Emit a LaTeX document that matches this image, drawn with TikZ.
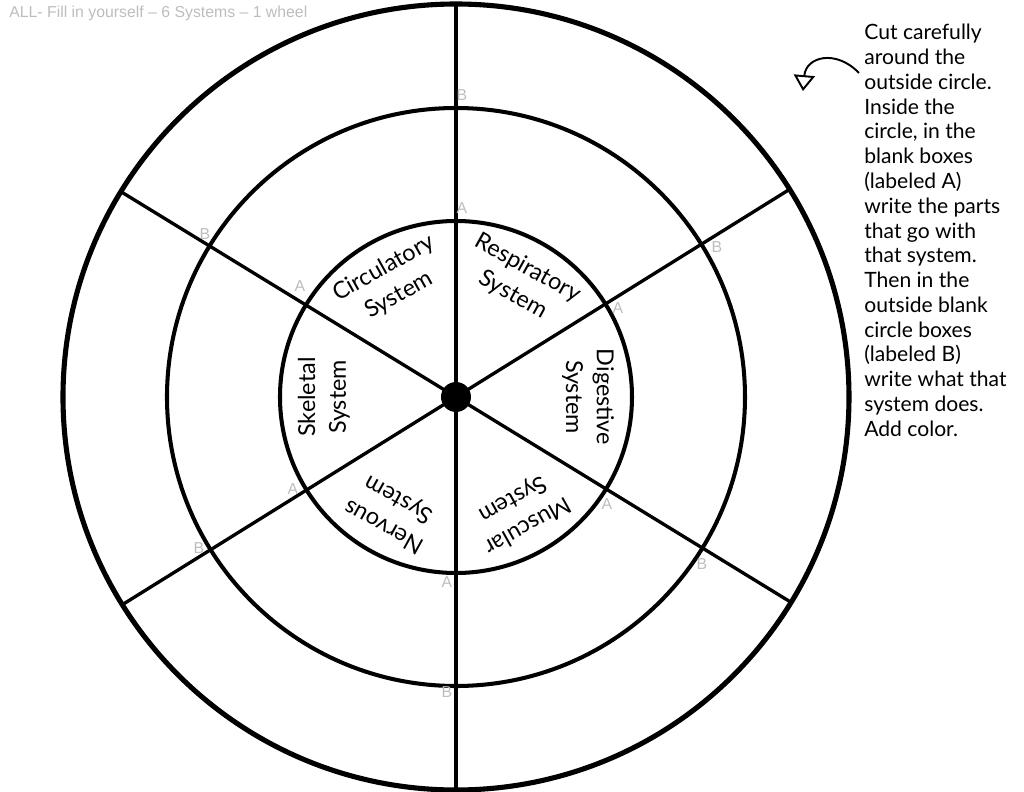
\documentclass[tikz,border=0pt]{standalone}
\usepackage{fontspec}
\setmainfont{Lato}
\newfontfamily\markfont{Liberation Sans}
\usepackage{xcolor}
\usetikzlibrary{arrows.meta}

\definecolor{markgray}{gray}{0.74}

\tikzset{
    rim/.style={line width=2.9pt},
    ring/.style={line width=2.3pt},
    spoke/.style={line width=1.9pt},
    sysname/.style={align=center, inner sep=0pt, font=\fontsize{13.3}{17.5}\selectfont},
    boxmark/.style={text=markgray, inner sep=0pt, font=\markfont\fontsize{9}{9}\selectfont},
}

\begin{document}
\begin{tikzpicture}

        \useasboundingbox (-9.12,-7.90) rectangle (11.36,7.94);
        \coordinate (hub) at (0,0);

        % Draw spokes
        \foreach \a in {31.9,90,148.5,211.9,270,328.5} {
            \draw[spoke] (hub) -- (\a:7.86);
        }

        % Draw rings
        \draw[rim] (hub) circle (7.86);
        \draw[ring] (hub) circle (5.78);
        \draw[ring] (hub) circle (3.52);
        \fill[black] (hub) circle (0.3);

        % Draw system names
        \foreach \a/\sys [count=\i] in {60.9/Respiratory, 119.2/Circulatory, 180/Skeletal, 240.9/Nervous, 299.2/Muscular, 0/Digestive} {
            \node[sysname, rotate=\a-90] (sys\i) at (\a:2.64) {\sys\\System};
        }

        % Draw A and B marks
        \foreach \x/\y/\m [count=\i] in {0.12/6.04/B, 0.12/3.78/A, -5.02/3.26/B, -3.12/2.22/A, 5.22/3.00/B, 3.24/1.78/A,
                                        3.02/-2.14/A, 4.92/-3.34/B, -0.18/-3.70/A, -0.18/-5.90/B, -3.26/-1.84/A, -5.14/-3.02/B} {
            \node[boxmark] (mark\i) at (\x,\y) {\m};
        }

        % Draw header
        \node[anchor=west, inner sep=0pt, text=markgray, font=\markfont\fontsize{9}{10}\selectfont] (header) at (-8.94,7.68)
            {ALL- Fill in yourself – 6 Systems – 1 wheel};

        % Draw instructions
        \node[anchor=north west, align=left, inner sep=0pt, font=\fontsize{12}{14.1}\selectfont] (note) at (8.16,7.46)
            {Cut carefully\\around the\\outside circle.\\Inside the\\circle, in the\\blank boxes\\(labeled A)\\write the parts\\that go with\\that system.\\Then in the\\outside blank\\circle boxes\\(labeled B)\\write what that\\system does.\\Add color.};

        % Draw pointer
        \coordinate (cutfrom) at (8.06,6.48);
        \coordinate (cutto) at (6.94,6.12);
        \draw[line width=1.1pt, -{Triangle[open, length=9pt, width=12pt]}] (cutfrom) .. controls (7.6,6.96) and (7.0,6.81) .. (cutto);

    \end{tikzpicture}
\end{document}
